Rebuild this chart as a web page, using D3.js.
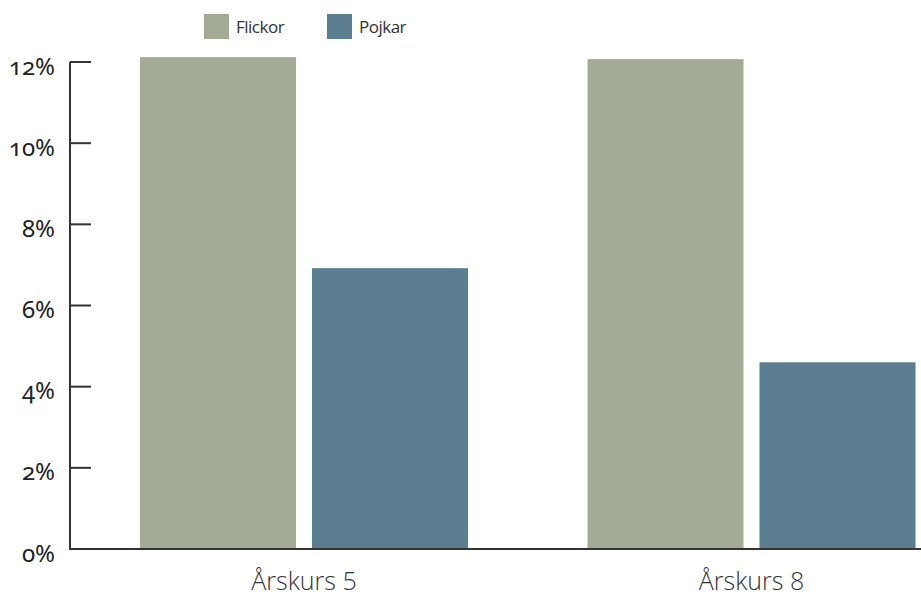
<!DOCTYPE html>
<html>
<head>
<meta charset="utf-8">
<script src="https://cdn.jsdelivr.net/npm/d3@7"></script>
<style>
  html, body { margin: 0; padding: 0; background: #fff; }
  svg { display: block; }
  .tick-label { font-family: "Noto Sans", Lato, sans-serif; font-variant-numeric: oldstyle-nums; font-feature-settings: "onum" 1; }
</style>
</head>
<body>
<svg id="chart" width="921" height="596"></svg>
<script>
const categories = ["Årskurs 5", "Årskurs 8"];
const seriesNames = ["Flickor", "Pojkar"];
const flickor = [12.12, 12.07];
const pojkar = [6.92, 4.6];
const yTicks = [0, 2, 4, 6, 8, 10, 12];
const colors = ["#a3aa96", "#5a7d8f"];

const svg = d3.select("#chart");
const x0 = 70, x1 = 921, yBase = 549, yTop = 62;

const y = d3.scaleLinear().domain([0, 12]).range([yBase, yTop]);
const xGroup = d3.scaleBand().domain(categories).range([140, 1035]);
const xSub = d3.scaleBand().domain(seriesNames).range([0, 328]).paddingInner(0.1).paddingOuter(0);

const data = categories.map((c, i) => ({cat: c, values: [flickor[i], pojkar[i]]}));

const g = svg.append("g");
data.forEach((d) => {
  d.values.forEach((v, j) => {
    g.append("rect")
      .attr("x", xGroup(d.cat) + (j === 0 ? 0 : 172))
      .attr("width", 156)
      .attr("y", y(v))
      .attr("height", yBase - y(v))
      .attr("fill", colors[j]);
  });
});

// axes
const axisColor = "#333";
svg.append("line").attr("x1", x0).attr("x2", x0).attr("y1", yTop).attr("y2", yBase + 1)
  .attr("stroke", axisColor).attr("stroke-width", 2);
svg.append("line").attr("x1", x0 - 1).attr("x2", x1).attr("y1", yBase).attr("y2", yBase)
  .attr("stroke", axisColor).attr("stroke-width", 2);

const yAxis = d3.axisLeft(y).tickValues(yTicks).tickSize(0).tickFormat(d => d + "%");
const ya = svg.append("g").attr("transform", `translate(${x0 - 15},0)`).call(yAxis);
ya.select(".domain").remove();
ya.selectAll("text")
  .attr("class", "tick-label")
  .attr("x", 0)
  .attr("dy", "0.5em")
  .attr("fill", "#222")
  .style("font-size", "24px")
  .style("font-family", "'Noto Sans', Lato, sans-serif");

// tick marks
svg.append("g").selectAll("line").data(yTicks.filter(t => t > 0)).join("line")
  .attr("x1", x0).attr("x2", x0 + 21)
  .attr("y1", d => y(d)).attr("y2", d => y(d))
  .attr("stroke", axisColor).attr("stroke-width", 2);

// x labels
svg.append("g").selectAll("text").data(categories).join("text")
  .attr("x", (d) => xGroup(d) + 164)
  .attr("y", 590)
  .attr("text-anchor", "middle")
  .attr("fill", "#333")
  .style("font-family", "'Open Sans', sans-serif")
  .style("font-weight", 300)
  .style("font-size", "25px")
  .text(d => d);

// legend
const legend = svg.append("g");
const legX = [204, 327];
seriesNames.forEach((s, i) => {
  legend.append("rect").attr("x", legX[i]).attr("y", 14).attr("width", 25).attr("height", 25).attr("fill", colors[i]);
  legend.append("text").attr("x", legX[i] + 32).attr("y", 33)
    .attr("fill", "#333")
    .style("font-family", "'Open Sans', sans-serif")
    .style("font-size", "17px")
    .style("letter-spacing", "-0.5px")
    .text(s);
});
</script>
</body>
</html>
